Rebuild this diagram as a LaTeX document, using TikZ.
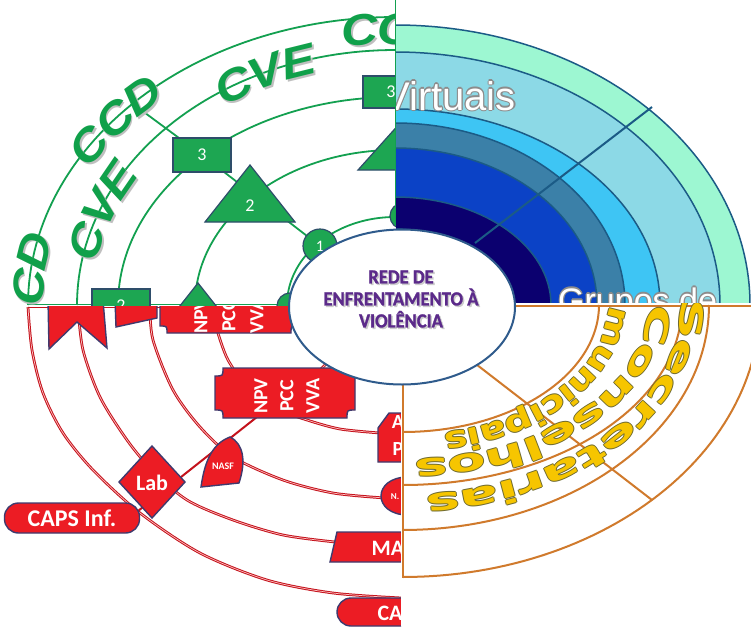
\documentclass[tikz,border=0pt]{standalone}
\usepackage{fontspec}
\setmainfont{Carlito}
\newfontfamily\gwfont[FakeStretch=1.15]{Liberation Sans Bold Italic}
\newfontfamily\owA[FakeStretch=1.3]{DejaVu Sans Bold}
\newfontfamily\owB[FakeStretch=1.8]{DejaVu Sans Bold}
\newfontfamily\owC[FakeStretch=1.85]{DejaVu Sans Bold}
\newfontfamily\arialf{Liberation Sans}
\newfontfamily\titlef[FakeBold=1.3,FakeStretch=0.93]{Carlito Bold}
\usetikzlibrary{shapes.geometric,decorations.text}
\definecolor{cGline}{HTML}{13A050}
\definecolor{cGfill}{HTML}{1DA652}
\definecolor{cGedge}{HTML}{2E4D6A}
\definecolor{cGtext}{HTML}{10A04A}
\definecolor{cRline}{HTML}{C4121C}
\definecolor{cRfill}{HTML}{EC1C24}
\definecolor{cRedge}{HTML}{3F3A6E}
\definecolor{cOline}{HTML}{D07A2C}
\definecolor{cGold}{HTML}{F6C500}
\definecolor{cGoldEdge}{HTML}{6E6A30}
\definecolor{cMint}{HTML}{9DF7D2}
\definecolor{cLight}{HTML}{8CD9E6}
\definecolor{cSky}{HTML}{3EC5F4}
\definecolor{cSteel}{HTML}{3B80A8}
\definecolor{cBlue}{HTML}{0B42C6}
\definecolor{cNavy}{HTML}{0B006F}
\definecolor{cBline}{HTML}{1B5B86}
\definecolor{cPurple}{HTML}{5B2A8A}
\definecolor{cEll}{HTML}{2F5B8C}
\newcommand\plaquepath[5]{({#1-#3+#5},{#2-#4}) -- ({#1+#3-#5},{#2-#4}) .. controls ({#1+#3-#5},{#2-#4+#5}) .. ({#1+#3},{#2-#4+#5}) -- ({#1+#3},{#2+#4-#5}) .. controls ({#1+#3-#5},{#2+#4-#5}) .. ({#1+#3-#5},{#2+#4}) -- ({#1-#3+#5},{#2+#4}) .. controls ({#1-#3+#5},{#2+#4-#5}) .. ({#1-#3},{#2+#4-#5}) -- ({#1-#3},{#2-#4+#5}) .. controls ({#1-#3+#5},{#2-#4+#5}) .. ({#1-#3+#5},{#2-#4}) -- cycle}
\tikzset{
  garc/.style={draw=cGline, line width=1.8pt},
  gshape/.style={fill=cGfill, draw=cGedge, line width=1.2pt},
  gbox/.style={gshape, minimum width=58pt, minimum height=34pt, inner sep=0pt, text=white, font=\fontsize{18}{18}\selectfont},
  gcirc/.style={gshape, circle, minimum size=34pt, inner sep=0pt, text=white, font=\fontsize{16}{16}\selectfont},
  glab/.style={text=white, inner sep=0pt, font=\fontsize{18}{18}\selectfont},
  rarc/.style={draw=cRline, line width=1pt, double=white!75!red, double distance=0.7pt},
  rshape/.style={fill=cRfill, draw=cRedge, line width=1.4pt},
  rlab/.style={text=white, inner sep=0pt, font=\bfseries\fontsize{20}{20}\selectfont},
  rpill/.style={rshape, rounded corners=14pt, inner sep=0pt},
  oarc/.style={draw=cOline, line width=2pt},
  gword/.style n args={4}{decorate, decoration={text along path, text={|\gwfont\fontsize{44}{44}\selectfont\color{#3}|#1}, text align={left indent=#2}, raise=#4}},
  oword/.style n args={6}{decorate, decoration={text along path, text={|#1\fontsize{#6}{#6}\selectfont\color{#4}|#2}, text align={left indent=#3}, raise=#5}},
}
\begin{document}
\begin{tikzpicture}[x=1pt,y=-1pt]
\useasboundingbox (0,0) rectangle (751,626);
\fill[white] (0,0) rectangle (751,626);

%% ---------------- GREEN QUADRANT ----------------
\begin{scope}
\clip (0,0) rectangle (396,306);
\foreach \ra/\rb in {367/288,318/255,277/208,200/155,108/88}{
  \draw[garc] plot[domain=180:270,samples=60] ({395+\ra*cos(\x)},{305+\rb*sin(\x)});
}
\draw[cGline, line width=1.2pt] (28,304.5) -- (292,304.5);
\coordinate (gr0) at (133,104);
\coordinate (gp3) at (202,155);
\coordinate (gp1) at (320,246);
\coordinate (gctr) at (395,305);
\draw[garc] (gr0) -- (gp3) -- (gp1) -- (gctr);
% WordArt text
\foreach \sh/\col in {{(1.8,1.8)}/black!25, {(0,0)}/cGtext}{
  \path[shift=\sh, gword={CD}{20pt}{\col}{-15pt}] plot[domain=176:282,samples=90] ({395+367*cos(\x)},{305+288*sin(\x)});
  \path[shift=\sh, gword={CCD}{176pt}{\col}{-15pt}] plot[domain=176:282,samples=90] ({395+367*cos(\x)},{305+288*sin(\x)});
  \path[shift=\sh, gword={CC}{482pt}{\col}{-27pt}] plot[domain=176:282,samples=90] ({395+367*cos(\x)},{305+288*sin(\x)});
  \path[shift=\sh, gword={CVE}{64pt}{\col}{-15pt}] plot[domain=176:282,samples=90] ({395+318*cos(\x)},{305+255*sin(\x)});
  \path[shift=\sh, gword={CVE}{284pt}{\col}{-15pt}] plot[domain=176:282,samples=90] ({395+318*cos(\x)},{305+255*sin(\x)});
}
% nodes
\node[gbox] (g3) at (gp3) {3};
\filldraw[gshape] (250,165) -- (295,222) -- (205,222) -- cycle;
\node[glab] (g2) at (250,206) {2};
\node[gcirc] (g1) at (gp1) {1};
\node[gbox, minimum width=56pt, minimum height=32pt] (g3b) at (391,92) {3};
\filldraw[gshape] (401,122) -- (444,170) -- (358,170) -- cycle;
\node[gcirc, minimum size=26pt] (g1b) at (403,216) {};
\node[gbox] (g2b) at (121,306) {2};
\filldraw[gshape] (198,283) -- (243,340) -- (153,340) -- cycle;
\node[gcirc, minimum size=26pt] (g1c) at (290,306) {};
\end{scope}

%% ---------------- RED QUADRANT ----------------
\begin{scope}
\clip (0,306) rectangle (401,626);
\fill[white] (0,306) rectangle (401,626);
\draw[rarc] plot[smooth] coordinates {(28,307) (32,350) (43,393) (63,433) (93,470) (140,513) (200,553) (267,580) (333,593) (402,598)};
\draw[rarc] plot[smooth] coordinates {(78,307) (83,350) (100,397) (127,440) (152,470) (187,500) (233,520) (283,535) (335,542)};
\draw[rarc] plot[smooth] coordinates {(150,307) (153,340) (173,390) (200,427) (233,457) (283,480) (333,493) (385,498)};
\draw[rarc] plot[smooth] coordinates {(217,330) (228,360) (250,390) (280,410) (307,420) (340,429) (380,433)};
\draw[rarc] (318,372) -- (332,358);
\draw[cRline, line width=1.5pt] (28,307.5) -- (300,307.5);
\coordinate (rl0) at (138,511);
\coordinate (rl1) at (262,413);
\draw[cRline, line width=2pt] (rl0) -- (rl1);
% shapes
\filldraw[rshape] (48,300) -- (49,349) -- (77,322) -- (107,348) -- (103,300) -- cycle;
\filldraw[rshape] (115,300) -- (116,327) -- (157,318) -- (157,300) -- cycle;
\filldraw[rshape] \plaquepath{229}{313}{69}{20}{7};
\node[rlab, rotate=90] (u1) at (201,316) {NPV};
\node[rlab, rotate=90] (u2) at (229,316) {PCC};
\node[rlab, rotate=90] (u3) at (257,316) {VVA};
\filldraw[rshape] \plaquepath{285}{393}{70}{25}{8};
\node[rlab, rotate=90] (n1) at (261,396) {NPV};
\node[rlab, rotate=90] (n2) at (287,396) {PCC};
\node[rlab, rotate=90] (n3) at (313,396) {VVA};
\filldraw[rshape] (152,446) -- (185,482) -- (152,518) -- (119,482) -- cycle;
\node[rlab, font=\bfseries\fontsize{22}{22}\selectfont] (lab) at (152,483) {Lab};
\node[rpill, minimum width=135pt, minimum height=30pt, rlab, font=\bfseries\fontsize{24}{24}\selectfont] (caps) at (72,518) {CAPS Inf.};
\filldraw[rshape] (201,487) -- (239,483) .. controls (246,462) and (244,444) .. (230,437) .. controls (214,443) and (205,458) .. (201,487) -- cycle;
\node[text=white, inner sep=0pt, font=\bfseries\fontsize{10}{10}\selectfont] (nasf) at (223,466) {NASF};
\filldraw[rshape] (378,428) -- (389,413) -- (412,413) -- (412,462) -- (378,462) -- cycle;
\node[rlab] (pa) at (398,422) {A};
\node[rlab] (pp) at (398,449) {P};
\filldraw[rshape] (408,477) .. controls (372,477) and (372,515) .. (408,515) -- cycle;
\node[text=white, inner sep=0pt, font=\bfseries\fontsize{9}{9}\selectfont] (nn) at (395,497) {N.};
\filldraw[rshape] (337,532) -- (412,532) -- (412,562) -- (330,562) -- cycle;
\node[rlab, font=\bfseries\fontsize{22}{22}\selectfont] (ma) at (388,548) {MA};
\node[rpill, minimum width=84pt, minimum height=28pt] (ca) at (379,612) {};
\node[rlab, font=\bfseries\fontsize{22}{22}\selectfont] (cal) at (390,613) {CA};
\end{scope}

%% ---------------- BLUE QUADRANT ----------------
\begin{scope}
\clip (396,0) rectangle (751,303);
\fill[white] (396,0) rectangle (751,303);
\foreach \ra/\rb/\col in {355/280/cMint, 325/253/cLight, 265/196/cSky, 230/182/cSteel, 202/157/cBlue, 156/108/cNavy, 100/76/white}{
  \filldraw[fill=\col, draw=cBline, line width=1.5pt] (395,305) ellipse[x radius=\ra pt, y radius=\rb pt];
}
\coordinate (bl0) at (475,243);
\coordinate (bl1) at (652,107);
\draw[cBline, line width=2pt] (bl0) -- (bl1);
\foreach \dx/\dy in {-1.2/0,1.2/0,0/-1.2,0/1.2,-0.9/-0.9,0.9/0.9,-0.9/0.9,0.9/-0.9}{
  \node[anchor=base west, inner sep=0pt, text=black!45, font=\arialf\fontsize{40}{40}\selectfont] at ({383+\dx},{110+\dy}) {Virtuais};
  \node[anchor=base west, inner sep=0pt, text=black!45, font=\arialf\fontsize{34}{34}\selectfont] at ({558+\dx},{312+\dy}) {Grupos de};
}
\node[anchor=base west, inner sep=0pt, text=white, font=\arialf\fontsize{40}{40}\selectfont] (virt) at (383,110) {Virtuais};
\node[anchor=base west, inner sep=0pt, text=white, font=\arialf\fontsize{34}{34}\selectfont] (grup) at (558,312) {Grupos de};
\end{scope}
\draw[cGline, line width=1.5pt] (395.5,0) -- (395.5,226);

%% ---------------- ORANGE QUADRANT ----------------
\begin{scope}
\clip (401,303) rectangle (751,626);
\fill[white] (401,303) rectangle (751,626);
\draw[oarc] (395,305.5) -- (751,305.5);
\draw[oarc] (403,305) -- (403,578);
\foreach \ra/\rb in {196/127, 279/180, 306/225, 357/272}{
  \draw[oarc] plot[domain=0:90,samples=60] ({403+\ra*cos(\x)},{305+\rb*sin(\x)});
}
\coordinate (ol0) at (402,307);
\coordinate (ol1) at (652,500);
\draw[oarc] (ol0) -- (ol1);
\foreach \sh/\col in {{(-1,0)}/cGoldEdge, {(1,0)}/cGoldEdge, {(0,-1)}/cGoldEdge, {(0,1)}/cGoldEdge, {(0,0)}/cGold}{
  \path[shift=\sh, oword={\owA}{municipais}{17pt}{\col}{-9pt}{30}] plot[domain=-6:100,samples=100] ({403+214*cos(\x)},{305+140*sin(\x)});
  \path[shift=\sh, oword={\owB}{Conselhos}{17pt}{\col}{-9pt}{31}] plot[domain=-6:100,samples=100] ({403+254*cos(\x)},{305+164*sin(\x)});
  \path[shift=\sh, oword={\owC}{Secretarias}{35pt}{\col}{-9pt}{31}] plot[domain=-12:100,samples=100] ({403+287*cos(\x)},{305+199*sin(\x)});
}
\end{scope}

%% ---------------- CENTRE ----------------
\node[ellipse, draw=cEll, line width=2pt, fill=white, minimum width=226pt, minimum height=155pt, inner sep=0pt] (hub) at (402,307) {};
\node[text=black!20, align=center, font=\titlef\fontsize{20}{22}\selectfont] at (402.5,300.5) {REDE DE\\ENFRENTAMENTO À\\VIOLÊNCIA};
\node[text=cPurple, align=center, font=\titlef\fontsize{20}{22}\selectfont] (title) at (401,299) {REDE DE\\ENFRENTAMENTO À\\VIOLÊNCIA};
\end{tikzpicture}
\end{document}
